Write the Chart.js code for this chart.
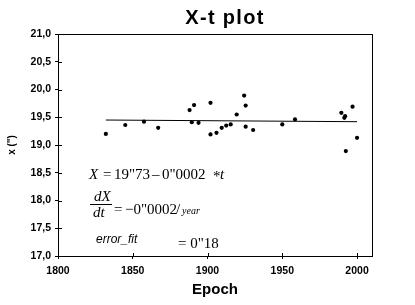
<!DOCTYPE html>
<html>
<head>
<meta charset="utf-8">
<script src="https://cdn.jsdelivr.net/npm/chart.js"></script>
<style>
    html, body { margin: 0; padding: 0; background: #ffffff; }
    #xtChart { display: block; }
</style>
</head>
<body>
<canvas id="xtChart" width="415" height="305"></canvas>
<script>
// observed epochs and X values (arcsec)
const epochs = [1832, 1845, 1857.5, 1867, 1888, 1891, 1889.5, 1894, 1902, 1902,
    1906, 1909.5, 1912.5, 1915.5, 1919.5, 1924.5, 1925.5, 1925.5, 1930.5,
    1950, 1958.5, 1989.5, 1991.5, 1992, 1997, 2000, 1992.5];
const xValues = [19.20, 19.36, 19.42, 19.31, 19.63, 19.72, 19.41, 19.40, 19.76, 19.19,
    19.22, 19.31, 19.35, 19.37, 19.55, 19.89, 19.71, 19.33, 19.27,
    19.37, 19.46, 19.58, 19.49, 19.52, 19.69, 19.13, 18.89];

// fitted line end points
const fitYears = [1832, 2000];
const fitValues = [19.45, 19.42];

const xTicks = [1800, 1850, 1900, 1950, 2000];
const yTicks = [17, 17.5, 18, 18.5, 19, 19.5, 20, 20.5, 21];

const tickFont = { family: "'Liberation Sans', Arial, sans-serif", size: 10.5, weight: 'bold' };

function toPoints(xs, ys) {
    return xs.map((x, i) => ({ x: x, y: ys[i] }));
}

// frame, inner tick marks, title and the fit formulas
const decorPlugin = {
    id: 'decor',
    afterDraw(chart) {
        const ctx = chart.ctx;
        const a = chart.chartArea;
        ctx.save();
        ctx.strokeStyle = '#000';
        ctx.lineWidth = 1;
        ctx.strokeRect(Math.round(a.left) + 0.5, Math.round(a.top) + 0.5,
            Math.round(a.right - a.left), Math.round(a.bottom - a.top));

        // small inward tick marks
        ctx.beginPath();
        chart.scales.x.ticks.forEach(t => {
            const px = Math.round(chart.scales.x.getPixelForValue(t.value)) + 0.5;
            ctx.moveTo(px, a.bottom);
            ctx.lineTo(px, a.bottom - 3);
        });
        chart.scales.y.ticks.forEach(t => {
            const py = Math.round(chart.scales.y.getPixelForValue(t.value)) + 0.5;
            ctx.moveTo(a.left, py);
            ctx.lineTo(a.left + 4, py);
        });
        ctx.stroke();

        ctx.fillStyle = '#000';
        ctx.textBaseline = 'alphabetic';

        // title
        ctx.font = "bold 20px 'Liberation Sans', Arial, sans-serif";
        ctx.letterSpacing = '1.3px';
        ctx.textAlign = 'center';
        ctx.fillText('X-t plot', 225, 24);
        ctx.letterSpacing = '0px';
        ctx.textAlign = 'left';

        const serif = "'Liberation Serif', 'Times New Roman', serif";
        const it = "italic 15px " + serif;
        const up = "15px " + serif;

        // X = 19"73 - 0"0002 *t
        ctx.font = it; ctx.fillText('X', 89, 179);
        ctx.font = up;
        ctx.fillText('=', 103, 179);
        ctx.fillText('19"73', 114, 179);
        ctx.fillText('\u2013', 152, 179);
        ctx.fillText('0"0002', 162, 179);
        ctx.fillText('*', 213, 181);
        ctx.font = it; ctx.fillText('t', 220, 179);

        // dX/dt = -0"0002 / year
        ctx.font = it;
        ctx.fillText('dX', 94, 201);
        ctx.fillText('dt', 93, 217);
        ctx.fillRect(90, 204, 22, 1);
        ctx.font = up;
        ctx.fillText('=', 114, 214);
        ctx.fillText('\u22120"0002', 125, 214);
        ctx.fillText('/', 176, 214);
        ctx.font = "italic 10px " + serif;
        ctx.fillText('year', 182, 214);

        // error_fit = 0"18
        ctx.font = "italic 12px 'Liberation Sans', Arial, sans-serif";
        ctx.fillText('error_fit', 96, 243);
        ctx.font = up;
        ctx.fillText('= 0"18', 178, 248);
        ctx.restore();
    }
};

new Chart(document.getElementById('xtChart'), {
    type: 'scatter',
    data: {
        datasets: [{
            label: 'X',
            data: toPoints(epochs, xValues),
            backgroundColor: '#000',
            borderColor: '#000',
            pointStyle: 'circle',
            pointRadius: 2.1,
            pointBorderWidth: 0
        }, {
            type: 'line',
            label: 'fit',
            data: toPoints(fitYears, fitValues),
            borderColor: '#000',
            borderWidth: 1,
            pointRadius: 0,
            fill: false
        }]
    },
    options: {
        responsive: false,
        animation: false,
        devicePixelRatio: 1,
        layout: { padding: { top: 34, right: 43, bottom: 0, left: 0 } },
        plugins: {
            legend: { display: false },
            title: { display: false },
            tooltip: { enabled: false }
        },
        scales: {
            x: {
                type: 'linear',
                min: 1800,
                max: 2010,
                afterFit: scale => { scale.height = 49; },
                afterBuildTicks: scale => { scale.ticks = xTicks.map(v => ({ value: v })); },
                grid: { drawOnChartArea: false, color: '#000', tickLength: 3 },
                border: { color: '#000', width: 1 },
                ticks: {
                    color: '#000',
                    font: tickFont,
                    padding: 6,
                    maxRotation: 0,
                    callback: v => String(v)
                },
                title: {
                    display: true,
                    text: 'Epoch',
                    color: '#000',
                    font: { family: "'Liberation Sans', Arial, sans-serif", size: 15, weight: 'bold' },
                    padding: { top: 0, bottom: 6 }
                }
            },
            y: {
                min: 17,
                max: 21,
                afterFit: scale => { scale.width = 58; },
                afterBuildTicks: scale => { scale.ticks = yTicks.map(v => ({ value: v })); },
                grid: { drawOnChartArea: false, color: '#000', tickLength: 3 },
                border: { color: '#000', width: 1 },
                ticks: {
                    color: '#000',
                    font: tickFont,
                    padding: 4,
                    callback: v => v.toFixed(1).replace('.', ',')
                },
                title: {
                    display: true,
                    text: 'x (")',
                    color: '#000',
                    font: { family: "'Liberation Sans', Arial, sans-serif", size: 10, weight: 'bold' },
                    padding: { top: 6, bottom: 0 }
                }
            }
        }
    },
    plugins: [decorPlugin]
});
</script>
</body>
</html>
